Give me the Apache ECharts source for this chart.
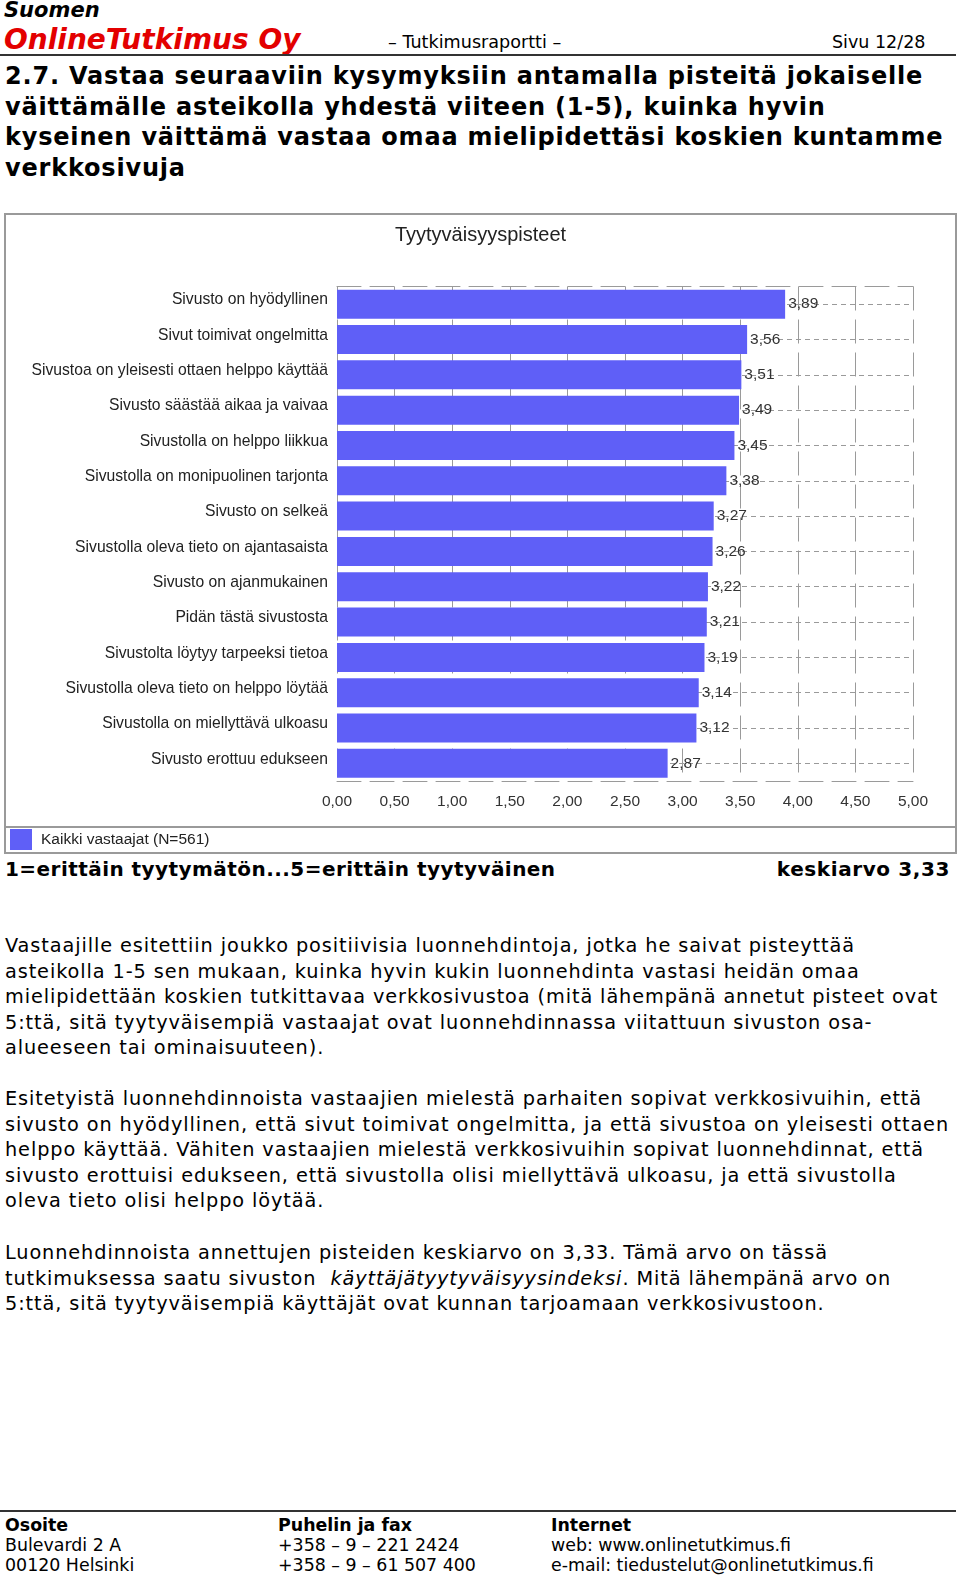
<!DOCTYPE html>
<html><head><meta charset="utf-8">
<script src="https://cdn.jsdelivr.net/npm/echarts@6/dist/echarts.min.js"></script>
<style>
html,body{margin:0;padding:0;background:#fff;}
body{width:960px;height:1576px;position:relative;overflow:hidden;font-family:"DejaVu Sans",Verdana,sans-serif;color:#000;}
.abs{position:absolute;white-space:nowrap;}
.rule{position:absolute;left:0;width:956px;height:2px;background:#333;}
#suomen{left:4px;top:-2px;line-height:24px;font-style:italic;font-weight:bold;font-size:21px;}
#brand{left:4px;top:23px;line-height:34px;font-style:italic;font-weight:bold;font-size:28px;color:#e30000;}
#rap{left:388px;top:32px;line-height:20px;font-size:17.6px;}
#sivu{left:832px;top:32px;line-height:20px;font-size:17.5px;}
#heading{left:5px;top:61px;line-height:30.5px;font-weight:bold;font-size:24px;letter-spacing:0.8px;}
#chart{position:absolute;left:4px;top:213px;width:953px;height:641px;}
#scale{left:5px;top:857px;line-height:25px;font-weight:bold;font-size:20px;letter-spacing:0.45px;}
#mean{right:10px;top:857px;line-height:25px;font-weight:bold;font-size:20px;letter-spacing:0.6px;}
.para{left:5px;line-height:25.55px;font-size:19.3px;letter-spacing:0.9px;}
#p1{top:933px;}
#p2{top:1086px;}
#p3{top:1240px;}
.foot{top:1515px;line-height:20.1px;font-size:17.4px;}
.foot b{font-weight:bold;}
</style></head>
<body>
<div class="abs" id="suomen">Suomen</div>
<div class="abs" id="brand">OnlineTutkimus Oy</div>
<div class="abs" id="rap">– Tutkimusraportti –</div>
<div class="abs" id="sivu">Sivu 12/28</div>
<div class="rule" style="top:54px"></div>
<div class="abs" id="heading">2.7. Vastaa seuraaviin kysymyksiin antamalla pisteitä jokaiselle<br>väittämälle asteikolla yhdestä viiteen (1-5), kuinka hyvin<br>kyseinen väittämä vastaa omaa mielipidettäsi koskien kuntamme<br>verkkosivuja</div>
<div id="chart"></div>
<div class="abs" id="scale">1=erittäin tyytymätön...5=erittäin tyytyväinen</div>
<div class="abs" id="mean">keskiarvo 3,33</div>
<div class="abs para" id="p1">Vastaajille esitettiin joukko positiivisia luonnehdintoja, jotka he saivat pisteyttää<br>asteikolla 1-5 sen mukaan, kuinka hyvin kukin luonnehdinta vastasi heidän omaa<br>mielipidettään koskien tutkittavaa verkkosivustoa (mitä lähempänä annetut pisteet ovat<br>5:ttä, sitä tyytyväisempiä vastaajat ovat luonnehdinnassa viitattuun sivuston osa-<br>alueeseen tai ominaisuuteen).</div>
<div class="abs para" id="p2">Esitetyistä luonnehdinnoista vastaajien mielestä parhaiten sopivat verkkosivuihin, että<br>sivusto on hyödyllinen, että sivut toimivat ongelmitta, ja että sivustoa on yleisesti ottaen<br>helppo käyttää. Vähiten vastaajien mielestä verkkosivuihin sopivat luonnehdinnat, että<br>sivusto erottuisi edukseen, että sivustolla olisi miellyttävä ulkoasu, ja että sivustolla<br>oleva tieto olisi helppo löytää.</div>
<div class="abs para" id="p3">Luonnehdinnoista annettujen pisteiden keskiarvo on 3,33. Tämä arvo on tässä<br>tutkimuksessa saatu sivuston &nbsp;<i>käyttäjätyytyväisyysindeksi</i>. Mitä lähempänä arvo on<br>5:ttä, sitä tyytyväisempiä käyttäjät ovat kunnan tarjoamaan verkkosivustoon.</div>
<div class="rule" style="top:1510px"></div>
<div class="abs foot" style="left:5px"><b>Osoite</b><br>Bulevardi 2 A<br>00120 Helsinki</div>
<div class="abs foot" style="left:278px"><b>Puhelin ja fax</b><br>+358 – 9 – 221 2424<br>+358 – 9 – 61 507 400</div>
<div class="abs foot" style="left:551px"><b>Internet</b><br>web: www.onlinetutkimus.fi<br>e-mail: tiedustelut@onlinetutkimus.fi</div>
<script>
const chartTitle = 'Tyytyväisyyspisteet';
const seriesName = 'Kaikki vastaajat (N=561)';
const categories = [
  'Sivusto on hyödyllinen',
  'Sivut toimivat ongelmitta',
  'Sivustoa on yleisesti ottaen helppo käyttää',
  'Sivusto säästää aikaa ja vaivaa',
  'Sivustolla on helppo liikkua',
  'Sivustolla on monipuolinen tarjonta',
  'Sivusto on selkeä',
  'Sivustolla oleva tieto on ajantasaista',
  'Sivusto on ajanmukainen',
  'Pidän tästä sivustosta',
  'Sivustolta löytyy tarpeeksi tietoa',
  'Sivustolla oleva tieto on helppo löytää',
  'Sivustolla on miellyttävä ulkoasu',
  'Sivusto erottuu edukseen'
];
const values = [3.89, 3.56, 3.51, 3.49, 3.45, 3.38, 3.27, 3.26, 3.22, 3.21, 3.19, 3.14, 3.12, 2.87];
const axisMin = 0, axisMax = 5, axisStep = 0.5;

const FONT = '"Liberation Sans", Arial, sans-serif';
const fmt = v => Number(v).toFixed(2).replace('.', ',');
const gridColor = '#9a9a9a';
const chart = echarts.init(document.getElementById('chart'), null, {renderer: 'canvas'});
chart.setOption({
  animation: false,
  backgroundColor: '#fff',
  title: {text: chartTitle, left: 'center', top: 7,
    textStyle: {fontFamily: FONT, fontSize: 20, fontWeight: 'normal', color: '#222'}},
  legend: {data: [seriesName], left: 6, top: 616, padding: 0, itemWidth: 22, itemHeight: 21, icon: 'rect',
    itemGap: 10, textStyle: {fontFamily: FONT, fontSize: 15.5, color: '#222', padding: [0, 0, 0, 4]}},
  grid: {left: 333, top: 73.5, width: 576, height: 494.5, containLabel: false},
  xAxis: [
    {type: 'value', min: axisMin, max: axisMax, interval: axisStep, position: 'bottom',
     axisLine: {show: true, onZero: false, lineStyle: {color: gridColor, type: [24, 9]}},
     axisTick: {show: false},
     axisLabel: {formatter: fmt, fontFamily: FONT, fontSize: 15.5, color: '#333', margin: 13},
     splitLine: {show: true, lineStyle: {color: gridColor, type: [24, 9], width: 1}}},
    {type: 'value', min: axisMin, max: axisMax, interval: axisStep, position: 'top',
     axisLine: {show: true, onZero: false, lineStyle: {color: gridColor, type: [24, 9]}},
     axisTick: {show: false}, axisLabel: {show: false}, splitLine: {show: false}}
  ],
  yAxis: {type: 'category', data: categories, inverse: true,
    axisLine: {show: false}, axisTick: {show: false}, splitLine: {show: false},
    axisLabel: {fontFamily: FONT, fontSize: 15.7, color: '#222', margin: 9,
      verticalAlign: 'bottom', lineHeight: 8}},
  series: [
    {type: 'scatter', name: 'rows', xAxisIndex: 0, data: values.map((v, i) => [v, i]),
     symbolSize: 0, silent: true, z: 1, tooltip: {show: false},
     markLine: {symbol: 'none', silent: true, z: 1, label: {show: false}, animation: false,
       lineStyle: {color: gridColor, type: [5, 4], width: 1},
       data: categories.map((c, i) => ({yAxis: i}))}},
    {type: 'bar', name: seriesName, xAxisIndex: 0, data: values, barWidth: 29, z: 3,
     itemStyle: {color: '#5f5ff7'},
     label: {show: true, position: 'right', distance: 3, formatter: p => fmt(p.value),
       fontFamily: FONT, fontSize: 15.5, color: '#333'}}
  ],
  graphic: [
    {type: 'rect', z: 100, shape: {x: 1, y: 1, width: 951, height: 613},
     style: {fill: null, stroke: '#9a9a9a', lineWidth: 2}},
    {type: 'rect', z: 100, shape: {x: 1, y: 614, width: 951, height: 26},
     style: {fill: null, stroke: '#9a9a9a', lineWidth: 2}}
  ]
});
</script>
</body></html>
